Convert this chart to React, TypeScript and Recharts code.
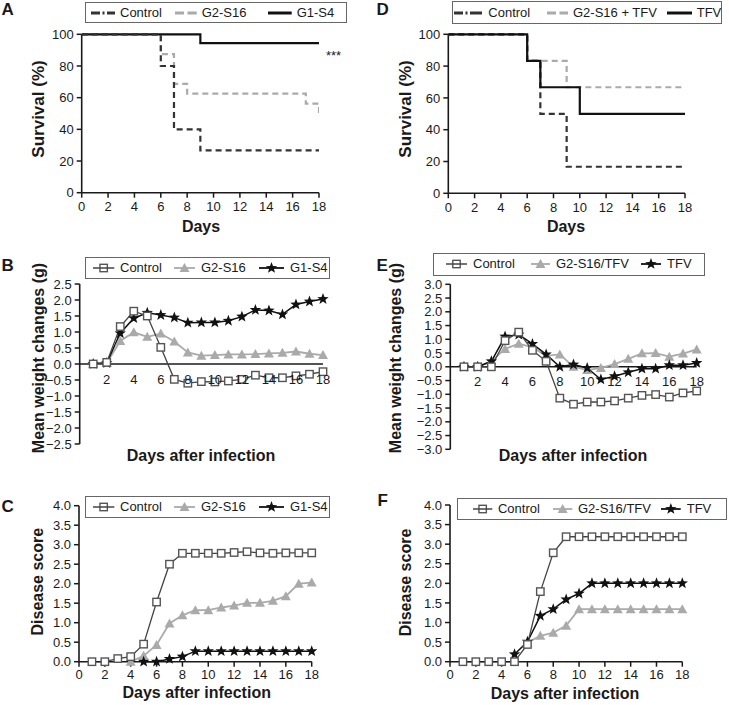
import React from 'react';
import { LineChart, Line, XAxis, YAxis, Legend, ReferenceLine } from 'recharts';

const FONT = '"Liberation Sans", Arial, Helvetica, sans-serif';
const INK = '#1a1a1a';
const DARK = '#444444';
const LIGHT = '#aaaaaa';

// ---------------- data ----------------
const survivalDayTicks = [0, 2, 4, 6, 8, 10, 12, 14, 16, 18];
const survivalPctTicks = [0, 20, 40, 60, 80, 100];

// Panel A (Kaplan-Meier steps: day of change, survival %)
const aControlDays = [0, 6, 7, 9, 18];
const aControlPct = [100, 80, 40, 26.7, 26.7];
const aG2S16Days = [0, 6, 7, 8, 17, 18];
const aG2S16Pct = [100, 87.5, 68.75, 62.5, 56.25, 50];
const aG1S4Days = [0, 9, 18];
const aG1S4Pct = [100, 94.4, 94.4];

// Panel D
const dControlDays = [0, 6, 7, 9, 18];
const dControlPct = [100, 83.3, 50, 16.7, 16.7];
const dComboDays = [0, 6, 9, 18];
const dComboPct = [100, 83.3, 66.7, 66.7];
const dTFVDays = [0, 6, 7, 10, 18];
const dTFVPct = [100, 83.3, 66.7, 50, 50];

const infectionDays = [1, 2, 3, 4, 5, 6, 7, 8, 9, 10, 11, 12, 13, 14, 15, 16, 17, 18];
const weightDayTicks = [2, 4, 6, 8, 10, 12, 14, 16, 18];
const weightBTicks = [-2.5, -2, -1.5, -1, -0.5, 0, 0.5, 1, 1.5, 2, 2.5];
const weightETicks = [-3, -2.5, -2, -1.5, -1, -0.5, 0, 0.5, 1, 1.5, 2, 2.5, 3];
const diseaseDayTicks = [0, 2, 4, 6, 8, 10, 12, 14, 16, 18];
const diseaseTicks = [0, 0.5, 1, 1.5, 2, 2.5, 3, 3.5, 4];

// Panel B: mean weight change (g)
const bControl = [0, 0.05, 1.17, 1.65, 1.5, 0.52, -0.48, -0.6, -0.55, -0.56, -0.53, -0.48, -0.35, -0.43, -0.43, -0.37, -0.32, -0.24];
const bG2S16 = [0, 0.03, 0.72, 0.99, 0.85, 0.95, 0.7, 0.36, 0.26, 0.28, 0.3, 0.3, 0.31, 0.33, 0.35, 0.39, 0.32, 0.28];
const bG1S4 = [0, 0.03, 0.96, 1.43, 1.6, 1.53, 1.45, 1.29, 1.3, 1.3, 1.35, 1.48, 1.69, 1.67, 1.55, 1.86, 1.95, 2.03];

// Panel E: mean weight change (g)
const eControl = [0, 0, 0, 0.95, 1.26, 0.6, 0.2, -1.14, -1.36, -1.28, -1.28, -1.24, -1.14, -1.04, -1.01, -1.1, -0.95, -0.88];
const eCombo = [0, 0, 0.2, 0.65, 0.84, 0.71, 0.4, 0.45, 0.0, -0.12, -0.04, 0.1, 0.29, 0.49, 0.5, 0.37, 0.48, 0.63];
const eTFV = [0, 0, 0.2, 1.1, 1.17, 0.83, 0.45, 0.0, 0.08, -0.04, -0.46, -0.34, -0.2, -0.07, -0.07, 0.06, 0.06, 0.14];

// Panel C: disease score
const cControl = [0, 0, 0.08, 0.13, 0.45, 1.53, 2.5, 2.78, 2.78, 2.78, 2.78, 2.8, 2.82, 2.79, 2.78, 2.79, 2.79, 2.79];
const cG2S16 = [null, null, null, 0, 0.15, 0.43, 0.98, 1.19, 1.32, 1.32, 1.39, 1.44, 1.51, 1.51, 1.56, 1.68, 2.0, 2.03];
const cG1S4 = [null, null, null, null, 0, 0, 0.07, 0.13, 0.27, 0.27, 0.27, 0.27, 0.27, 0.27, 0.27, 0.27, 0.27, 0.27];

// Panel F: disease score
const fControl = [0, 0, 0, 0, 0, 0.44, 1.79, 2.78, 3.19, 3.19, 3.19, 3.19, 3.19, 3.19, 3.19, 3.19, 3.19, 3.19];
const fCombo = [null, null, null, null, null, 0.49, 0.66, 0.74, 0.92, 1.34, 1.34, 1.34, 1.34, 1.34, 1.34, 1.34, 1.34, 1.34];
const fTFV = [null, null, null, null, 0.19, 0.51, 1.17, 1.34, 1.59, 1.74, 2.0, 2.0, 2.0, 2.0, 2.0, 2.0, 2.0, 2.0];

// ---------------- helpers ----------------
const pts = (xs: number[], ys: number[]) => xs.map((x, i) => ({ x, y: ys[i] }));
const rows = (a: (number | null)[], b: (number | null)[], c: (number | null)[]) =>
  infectionDays.map((d, i) => ({ day: d, control: a[i], g2: b[i], g1: c[i] }));
const fmt1 = (v: number) => v.toFixed(1).replace('-', '\u2212');

const starPoints = (cx: number, cy: number, R: number, r: number) => {
  const p: string[] = [];
  for (let i = 0; i < 10; i++) {
    const rad = i % 2 === 0 ? R : r;
    const a = -Math.PI / 2 + (i * Math.PI) / 5;
    p.push(`${(cx + rad * Math.cos(a)).toFixed(2)},${(cy + rad * Math.sin(a)).toFixed(2)}`);
  }
  return p.join(' ');
};

const SquareMark = ({ cx, cy }: any) => (
  <rect x={cx - 3.7} y={cy - 3.7} width={7.4} height={7.4} fill="#fff" stroke="#555" strokeWidth={1.4} />
);
const TriMark = ({ cx, cy }: any) => (
  <polygon points={`${cx},${cy - 5} ${cx - 5},${cy + 4} ${cx + 5},${cy + 4}`} fill={LIGHT} />
);
const StarMark = ({ cx, cy }: any) => <polygon points={starPoints(cx, cy, 6, 2.5)} fill="#111" />;

const dotFn = (kind: string) => (p: any) => {
  if (p.cx == null || p.cy == null || p.value == null) return <g key={`n${p.index}`} />;
  if (kind === 'square') return <SquareMark key={`s${p.index}`} cx={p.cx} cy={p.cy} />;
  if (kind === 'tri') return <TriMark key={`t${p.index}`} cx={p.cx} cy={p.cy} />;
  return <StarMark key={`r${p.index}`} cx={p.cx} cy={p.cy} />;
};

const titleStyle: React.CSSProperties = { fontFamily: FONT, fontSize: 16, fontWeight: 700, fill: INK };
const tickStyle = { fontSize: 13, fill: INK, fontFamily: FONT };

const yTitle = (x: number, y: number, text: string, size = 16) => () => (
  <text
    x={x}
    y={y}
    transform={`rotate(-90 ${x} ${y})`}
    textAnchor="middle"
    dominantBaseline="central"
    style={{ ...titleStyle, fontSize: size }}
  >
    {text}
  </text>
);
const xTitle = (x: number, y: number, text: string) => () => (
  <text x={x} y={y} textAnchor="middle" dominantBaseline="central" style={titleStyle}>
    {text}
  </text>
);

function LegendIcon({ kind, w }: { kind: string; w: number }) {
  const y = 6;
  if (kind === 'dashdot')
    return <path d={`M0 ${y} H${w}`} stroke="#333" strokeWidth={3} strokeDasharray="9 2.5 2 2.5 12" />;
  if (kind === 'dash') return <path d={`M0 ${y} H${w}`} stroke={LIGHT} strokeWidth={3} strokeDasharray="9 3.5 20" />;
  if (kind === 'solid') return <path d={`M0 ${y} H${w}`} stroke="#111" strokeWidth={3} />;
  if (kind === 'square')
    return (
      <g>
        <SquareMark cx={w / 2} cy={y} />
        <path d={`M1 ${y} H${w - 1}`} stroke={DARK} strokeWidth={1.5} />
      </g>
    );
  if (kind === 'tri')
    return (
      <g>
        <path d={`M1 ${y} H${w - 1}`} stroke={LIGHT} strokeWidth={1.8} />
        <TriMark cx={w / 2} cy={y} />
      </g>
    );
  return (
    <g>
      <path d={`M1 ${y} H${w - 1}`} stroke="#111" strokeWidth={1.8} />
      <StarMark cx={w / 2} cy={y} />
    </g>
  );
}

type LegendItem = { name: string; kind: string; iconX: number; textX: number };
type Box = { x: number; y: number; w: number; h: number };

function LegendBox({ box, items }: { box: Box; items: LegendItem[] }) {
  return (
    <div
      style={{
        position: 'relative',
        width: box.w,
        height: box.h,
        border: '1px solid #666',
        boxSizing: 'border-box',
        background: '#fff',
        fontFamily: FONT,
        fontSize: 13,
        color: INK,
      }}
    >
      {items.map((it) => {
        const w = it.textX - it.iconX - 5;
        return (
          <React.Fragment key={it.name}>
            <svg
              width={w}
              height={12}
              style={{ position: 'absolute', left: it.iconX - 1, top: (box.h - 2) / 2 - 6 }}
            >
              <LegendIcon kind={it.kind} w={w} />
            </svg>
            <span
              style={{
                position: 'absolute',
                left: it.textX - 1,
                top: 0,
                lineHeight: `${box.h - 2}px`,
                whiteSpace: 'nowrap',
              }}
            >
              {it.name}
            </span>
          </React.Fragment>
        );
      })}
    </div>
  );
}

const legendEl = (box: Box, items: LegendItem[]) => (
  <Legend
    layout="horizontal"
    verticalAlign="middle"
    align="center"
    wrapperStyle={{ left: box.x, top: box.y, width: box.w, height: box.h }}
    content={() => <LegendBox box={box} items={items} />}
  />
);

const axisProps = {
  axisLine: { stroke: INK, strokeWidth: 1.6 },
  tickLine: { stroke: INK, strokeWidth: 1.5 },
  tickSize: 5,
  tick: tickStyle,
  interval: 0 as const,
};

// ---------------- panels ----------------
type SurvSeries = { name: string; days: number[]; pct: number[]; color: string; dash?: string; width: number };

function SurvivalPanel(props: {
  pos: { left: number; top: number; width: number; height: number };
  margin: any;
  yWidth: number;
  yT: [number, number];
  xT: [number, number];
  legendBox: Box;
  legendItems: LegendItem[];
  series: SurvSeries[];
}) {
  const { pos, margin, yWidth, yT, xT, legendBox, legendItems, series } = props;
  return (
    <div style={{ position: 'absolute', left: pos.left, top: pos.top }}>
      <LineChart width={pos.width} height={pos.height} margin={margin}>
        <XAxis
          type="number"
          dataKey="x"
          domain={[0, 18]}
          ticks={survivalDayTicks}
          allowDataOverflow
          height={30}
          tickMargin={4}
          {...axisProps}
          label={{ content: xTitle(xT[0], xT[1], 'Days') }}
        />
        <YAxis
          type="number"
          dataKey="y"
          domain={[0, 100]}
          ticks={survivalPctTicks}
          width={yWidth}
          tickMargin={3}
          {...axisProps}
          label={{ content: yTitle(yT[0], yT[1], 'Survival (%)', 17) }}
        />
        {series.map((s) => (
          <Line
            key={s.name}
            name={s.name}
            data={pts(s.days, s.pct)}
            dataKey="y"
            type="stepAfter"
            stroke={s.color}
            strokeWidth={s.width}
            strokeDasharray={s.dash}
            dot={false}
            activeDot={false}
            isAnimationActive={false}
          />
        ))}
        {legendEl(legendBox, legendItems)}
      </LineChart>
    </div>
  );
}

type TSeries = { key: string; name: string; kind: string; color: string; width: number };

function TimePanel(props: {
  pos: { left: number; top: number; width: number; height: number };
  margin: any;
  yWidth: number;
  xHeight: number;
  yT: [number, number];
  xT: [number, number];
  yTitleText: string;
  legendBox: Box;
  legendItems: LegendItem[];
  data: any[];
  series: TSeries[];
  yDomain: [number, number];
  yTicks: number[];
  xTicks: number[];
  zeroY?: number;
}) {
  const { pos, margin, yWidth, xHeight, yT, xT, yTitleText, legendBox, legendItems, data, series, yDomain, yTicks, xTicks, zeroY } =
    props;
  const crossing = zeroY != null;
  return (
    <div style={{ position: 'absolute', left: pos.left, top: pos.top }}>
      <LineChart width={pos.width} height={pos.height} margin={margin} data={data}>
        {crossing ? (
          <XAxis
            type="number"
            dataKey="day"
            domain={[0, 18]}
            ticks={xTicks}
            interval={0}
            height={xHeight}
            axisLine={false}
            tickLine={false}
            tick={(p: any) => (
              <text
                x={p.x}
                y={(zeroY as number) + 15}
                textAnchor="middle"
                dominantBaseline="central"
                style={tickStyle}
              >
                {p.payload.value}
              </text>
            )}
            label={{ content: xTitle(xT[0], xT[1], 'Days after infection') }}
          />
        ) : (
          <XAxis
            type="number"
            dataKey="day"
            domain={[0, 18]}
            ticks={xTicks}
            height={xHeight}
            tickMargin={3}
            {...axisProps}
            label={{ content: xTitle(xT[0], xT[1], 'Days after infection') }}
          />
        )}
        <YAxis
          type="number"
          domain={yDomain}
          ticks={yTicks}
          width={yWidth}
          tickMargin={3}
          tickFormatter={fmt1}
          {...axisProps}
          label={{ content: yTitle(yT[0], yT[1], yTitleText) }}
        />
        {crossing && <ReferenceLine y={0} stroke={INK} strokeWidth={1.6} />}
        {series.map((s) => (
          <Line
            key={s.key}
            name={s.name}
            dataKey={s.key}
            type="linear"
            stroke={s.color}
            strokeWidth={s.width}
            dot={dotFn(s.kind)}
            activeDot={false}
            isAnimationActive={false}
          />
        ))}
        {legendEl(legendBox, legendItems)}
      </LineChart>
    </div>
  );
}

const seriesABC = (g2Name: string, g1Name: string): TSeries[] => [
  { key: 'g2', name: g2Name, kind: 'tri', color: LIGHT, width: 1.8 },
  { key: 'g1', name: g1Name, kind: 'star', color: '#111', width: 1.5 },
  { key: 'control', name: 'Control', kind: 'square', color: DARK, width: 1.3 },
];

export default function App() {
  const itemsB: LegendItem[] = [
    { name: 'Control', kind: 'square', iconX: 6.7, textX: 35 },
    { name: 'G2-S16', kind: 'tri', iconX: 88, textX: 116 },
    { name: 'G1-S4', kind: 'star', iconX: 173, textX: 205 },
  ];
  return (
    <div
      style={{
        position: 'absolute',
        left: 0,
        top: 0,
        width: 729,
        height: 705,
        background: '#fff',
        fontFamily: FONT,
        overflow: 'hidden',
      }}
    >
      <SurvivalPanel
        pos={{ left: 0, top: 0, width: 365, height: 240 }}
        margin={{ top: 34.3, right: 46, bottom: 17.3, left: 0 }}
        yWidth={81.7}
        yT={[38, 109]}
        xT={[201, 226]}
        legendBox={{ x: 85, y: 2, w: 262, h: 21 }}
        legendItems={[
          { name: 'Control', kind: 'dashdot', iconX: 5.7, textX: 35 },
          { name: 'G2-S16', kind: 'dash', iconX: 90, textX: 116.7 },
          { name: 'G1-S4', kind: 'solid', iconX: 183, textX: 211.7 },
        ]}
        series={[
          { name: 'G2-S16', days: aG2S16Days, pct: aG2S16Pct, color: LIGHT, dash: '6 4', width: 2.2 },
          { name: 'G1-S4', days: aG1S4Days, pct: aG1S4Pct, color: '#111', width: 2.2 },
          { name: 'Control', days: aControlDays, pct: aControlPct, color: '#333', dash: '6 4', width: 2.2 },
        ]}
      />
      <SurvivalPanel
        pos={{ left: 365, top: 0, width: 364, height: 240 }}
        margin={{ top: 34.3, right: 44, bottom: 16.7, left: 0 }}
        yWidth={83.3}
        yT={[40, 109]}
        xT={[201, 226]}
        legendBox={{ x: 86.7, y: 1, w: 270.7, h: 23 }}
        legendItems={[
          { name: 'Control', kind: 'dashdot', iconX: 2, textX: 36.6 },
          { name: 'G2-S16 + TFV', kind: 'dash', iconX: 95, textX: 121.3 },
          { name: 'TFV', kind: 'solid', iconX: 215, textX: 245 },
        ]}
        series={[
          { name: 'G2-S16 + TFV', days: dComboDays, pct: dComboPct, color: LIGHT, dash: '6 4', width: 2.2 },
          { name: 'Control', days: dControlDays, pct: dControlPct, color: '#333', dash: '6 4', width: 2.2 },
          { name: 'TFV', days: dTFVDays, pct: dTFVPct, color: '#111', width: 2.2 },
        ]}
      />
      <TimePanel
        pos={{ left: 0, top: 240, width: 365, height: 230 }}
        margin={{ top: 44, right: 42, bottom: 6, left: 0 }}
        yWidth={79.7}
        xHeight={20}
        yT={[38, 118]}
        xT={[201, 215]}
        yTitleText="Mean weight changes (g)"
        legendBox={{ x: 85, y: 16.7, w: 245, h: 22.3 }}
        legendItems={itemsB}
        data={rows(bControl, bG2S16, bG1S4)}
        series={seriesABC('G2-S16', 'G1-S4')}
        yDomain={[-2.5, 2.5]}
        yTicks={weightBTicks}
        xTicks={weightDayTicks}
        zeroY={124}
      />
      <TimePanel
        pos={{ left: 365, top: 240, width: 364, height: 230 }}
        margin={{ top: 44.3, right: 32.3, bottom: 0.7, left: 0 }}
        yWidth={85.3}
        xHeight={20}
        yT={[30, 118]}
        xT={[208, 215]}
        yTitleText="Mean weight changes (g)"
        legendBox={{ x: 68, y: 13, w: 272, h: 22.7 }}
        legendItems={[
          { name: 'Control', kind: 'square', iconX: 12, textX: 40 },
          { name: 'G2-S16/TFV', kind: 'tri', iconX: 97, textX: 123 },
          { name: 'TFV', kind: 'star', iconX: 207, textX: 234 },
        ]}
        data={rows(eControl, eCombo, eTFV)}
        series={seriesABC('G2-S16/TFV', 'TFV')}
        yDomain={[-3, 3]}
        yTicks={weightETicks}
        xTicks={weightDayTicks}
        zeroY={126.8}
      />
      <TimePanel
        pos={{ left: 0, top: 470, width: 365, height: 235 }}
        margin={{ top: 35.7, right: 53.3, bottom: 13.3, left: 0 }}
        yWidth={79}
        xHeight={30}
        yT={[38, 111.7]}
        xT={[196.7, 222]}
        yTitleText="Disease score"
        legendBox={{ x: 85, y: 26, w: 245, h: 22.3 }}
        legendItems={itemsB}
        data={rows(cControl, cG2S16, cG1S4)}
        series={seriesABC('G2-S16', 'G1-S4')}
        yDomain={[0, 4]}
        yTicks={diseaseTicks}
        xTicks={diseaseDayTicks}
      />
      <TimePanel
        pos={{ left: 365, top: 470, width: 364, height: 235 }}
        margin={{ top: 35, right: 46.7, bottom: 13.3, left: 0 }}
        yWidth={85}
        xHeight={30}
        yT={[40, 112.5]}
        xT={[200, 223]}
        yTitleText="Disease score"
        legendBox={{ x: 91.7, y: 28.3, w: 270, h: 21.7 }}
        legendItems={[
          { name: 'Control', kind: 'square', iconX: 15, textX: 41.3 },
          { name: 'G2-S16/TFV', kind: 'tri', iconX: 95, textX: 121.3 },
          { name: 'TFV', kind: 'star', iconX: 203.3, textX: 230 },
        ]}
        data={rows(fControl, fCombo, fTFV)}
        series={seriesABC('G2-S16/TFV', 'TFV')}
        yDomain={[0, 4]}
        yTicks={diseaseTicks}
        xTicks={diseaseDayTicks}
      />
      <svg
        width={729}
        height={705}
        style={{ position: 'absolute', left: 0, top: 0, pointerEvents: 'none' }}
      >
        <g style={{ fontFamily: FONT, fontWeight: 700, fontSize: 17, fill: INK }}>
          <text x={1.5} y={14.5}>A</text>
          <text x={376.5} y={14.5}>D</text>
          <text x={1.5} y={270.5}>B</text>
          <text x={376.5} y={270.5}>E</text>
          <text x={1.5} y={512}>C</text>
          <text x={377.5} y={505.5}>F</text>
        </g>
        <text x={326} y={60} style={{ fontFamily: FONT, fontSize: 13, fill: INK }}>
          ***
        </text>
      </svg>
    </div>
  );
}
